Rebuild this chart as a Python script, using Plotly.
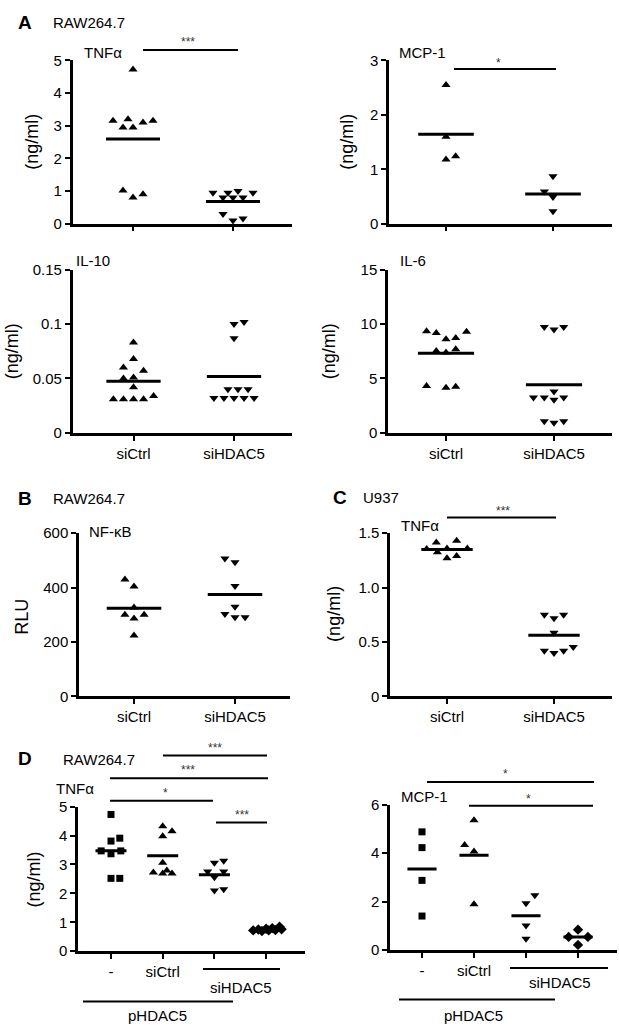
import numpy as np
import plotly.graph_objects as go

W, H = 619, 1033

# ---------------- data ----------------
cats_2 = ["siCtrl", "siHDAC5"]
cats_D = ["-", "siCtrl", "", ""]

# A: TNFα (ng/ml)
a_tnf_ctrl = [4.72, 3.15, 3.20, 3.10, 3.15, 2.95, 2.95, 1.02, 0.80, 0.90]
a_tnf_ctrl_dx = [0.0, -0.20, -0.05, 0.10, 0.20, -0.10, 0.0, -0.10, 0.0, 0.10]
a_tnf_si = [0.95, 0.95, 1.00, 0.95, 0.80, 0.80, 0.80, 0.30, 0.10, 0.16]
a_tnf_si_dx = [-0.20, -0.05, 0.05, 0.20, -0.10, 0.0, 0.10, -0.10, 0.0, 0.10]
# A: MCP-1 (ng/ml)
a_mcp_ctrl = [2.55, 1.60, 1.18, 1.24]
a_mcp_ctrl_dx = [0.0, 0.0, 0.0, 0.09]
a_mcp_si = [0.87, 0.59, 0.49, 0.23]
a_mcp_si_dx = [0.0, -0.08, 0.0, 0.0]
# A: IL-10 (ng/ml)
a_il10_ctrl = [0.083, 0.068, 0.060, 0.057, 0.050, 0.051, 0.042, 0.031, 0.031, 0.031, 0.031, 0.034]
a_il10_ctrl_dx = [0.0, 0.0, -0.10, 0.10, -0.10, 0.0, 0.0, -0.20, -0.10, 0.0, 0.10, 0.20]
a_il10_si = [0.100, 0.102, 0.087, 0.040, 0.040, 0.040, 0.032, 0.032, 0.032, 0.032, 0.032]
a_il10_si_dx = [0.0, 0.10, 0.0, -0.06, 0.04, 0.14, -0.20, -0.10, 0.0, 0.10, 0.20]
# A: IL-6 (ng/ml)
a_il6_ctrl = [9.34, 9.19, 8.60, 8.73, 9.30, 7.53, 7.38, 7.68, 4.30, 4.16, 4.25]
a_il6_ctrl_dx = [-0.18, -0.09, 0.0, 0.09, 0.19, -0.09, 0.0, 0.09, -0.18, 0.0, 0.09]
a_il6_si = [9.73, 9.49, 9.73, 3.80, 3.25, 3.25, 3.04, 3.25, 1.08, 0.93, 1.08]
a_il6_si_dx = [-0.09, 0.0, 0.09, 0.0, -0.19, -0.09, 0.0, 0.09, -0.09, 0.0, 0.09]
# B: NF-κB (RLU)
b_ctrl = [430, 404, 327, 300, 300, 287, 224]
b_ctrl_dx = [-0.09, 0.0, 0.0, -0.09, 0.10, 0.0, 0.0]
b_si = [507, 493, 406, 330, 303, 291, 291]
b_si_dx = [-0.10, 0.0, 0.0, 0.0, -0.10, 0.0, 0.10]
# C: U937 TNFα (ng/ml)
c_ctrl = [1.415, 1.43, 1.355, 1.36, 1.36, 1.325, 1.27, 1.29]
c_ctrl_dx = [-0.10, 0.09, -0.19, 0.0, 0.19, -0.09, 0.0, 0.09]
c_si = [0.75, 0.72, 0.75, 0.585, 0.42, 0.40, 0.42, 0.455]
c_si_dx = [-0.09, 0.0, 0.09, 0.0, -0.09, 0.0, 0.09, 0.18]
# D: TNFα (ng/ml), groups: -, siCtrl, siHDAC5(1), siHDAC5(2)
d_tnf_g0 = [4.73, 3.91, 3.81, 3.47, 3.47, 3.37, 2.52, 2.52]
d_tnf_g0_dx = [0.0, 0.17, 0.0, -0.19, 0.19, 0.0, 0.0, 0.17]
d_tnf_g1 = [4.32, 4.15, 3.98, 3.06, 2.79, 2.72, 2.69, 2.69]
d_tnf_g1_dx = [0.0, 0.18, 0.0, 0.0, 0.08, -0.18, 0.0, 0.18]
d_tnf_g2 = [3.13, 3.06, 2.76, 2.76, 2.56, 2.10, 2.14]
d_tnf_g2_dx = [0.18, 0.0, -0.13, 0.18, 0.0, 0.0, 0.18]
d_tnf_g3 = [0.72, 0.75, 0.70, 0.78, 0.72, 0.80, 0.73, 0.85, 0.76]
d_tnf_g3_dx = [-0.25, -0.15, -0.08, 0.0, 0.05, 0.12, 0.18, 0.26, 0.30]
# D: MCP-1 (ng/ml)
d_mcp_g0 = [4.88, 4.23, 2.88, 1.41]
d_mcp_g0_dx = [0.0, 0.0, 0.0, 0.0]
d_mcp_g1 = [5.36, 4.34, 4.07, 1.90]
d_mcp_g1_dx = [0.0, -0.18, 0.0, 0.0]
d_mcp_g2 = [2.27, 1.94, 1.02, 0.47]
d_mcp_g2_dx = [0.17, 0.0, 0.0, 0.0]
d_mcp_g3 = [0.85, 0.55, 0.55, 0.22]
d_mcp_g3_dx = [0.0, -0.18, 0.19, 0.0]

# ---------------- layout helpers ----------------
FONT = "Liberation Sans, Arial, sans-serif"


def fx(p):
    return p / W


def fy(p):
    return 1 - p / H


# name: (x0px, x1px, ybottom_px, ytop_px, tick0_px, spacing_px, yrange, ytickvals, yticktext, xtickvals, xticktext)
panels = {
    "A1": (72.7, 291.7, 218.3, 52.3, 133, 100, [0, 5], [0, 1, 2, 3, 4, 5], ["0", "1", "2", "3", "4", "5"], [0, 1], ["", ""]),
    "A2": (389, 612, 218.3, 52.3, 446, 107, [0, 3], [0, 1, 2, 3], ["0", "1", "2", "3"], [0, 1], ["", ""]),
    "A3": (72.7, 291.7, 431, 265, 133.5, 100.5, [0, 0.15], [0, 0.05, 0.1, 0.15], ["0", "0.05", "0.1", "0.15"], [0, 1], cats_2),
    "A4": (388, 612, 431, 265, 446, 108, [0, 15], [0, 5, 10, 15], ["0", "5", "10", "15"], [0, 1], cats_2),
    "B": (79, 290, 699, 533, 134, 101, [0, 600], [0, 200, 400, 600], ["0", "200", "400", "600"], [0, 1], cats_2),
    "C": (390, 612, 699, 533, 447, 107, [0, 1.5], [0, 0.5, 1.0, 1.5], ["0", "0.5", "1.0", "1.5"], [0, 1], cats_2),
    "DL": (78, 305, 958, 811, 111, 51.7, [0, 5], [0, 1, 2, 3, 4, 5], ["0", "1", "2", "3", "4", "5"], [0, 1, 2, 3], cats_D),
    "DR": (390, 617, 957, 809, 422, 52, [0, 6], [0, 2, 4, 6], ["0", "2", "4", "6"], [0, 1, 2, 3], cats_D),
}
order = ["A1", "A2", "A3", "A4", "B", "C", "DL", "DR"]
halfw = {"A1": 0.27, "A2": 0.26, "A3": 0.27, "A4": 0.26, "B": 0.27, "C": 0.24, "DL": 0.3, "DR": 0.28}

fig = go.Figure()
layout = dict(
    width=W, height=H, margin=dict(l=0, r=0, t=0, b=0),
    paper_bgcolor="white", plot_bgcolor="white", showlegend=False,
    font=dict(family=FONT, color="black", size=15),
)

axref = {}
for i, name in enumerate(order):
    x0, x1, yb, yt, t0, sp, yr, ytv, ytt, xtv, xtt = panels[name]
    n = "" if i == 0 else str(i + 1)
    axref[name] = ("x" + n, "y" + n)
    layout["xaxis" + n] = dict(
        domain=[fx(x0), fx(x1)], range=[(x0 - t0) / sp, (x1 - t0) / sp],
        anchor="y" + n, showline=True, linecolor="black", linewidth=2.5,
        ticks="outside", ticklen=5, tickwidth=2, tickcolor="black",
        tickvals=xtv, ticktext=xtt, showgrid=False, zeroline=False,
        tickfont=dict(size=15, color="black"), fixedrange=True,
    )
    layout["yaxis" + n] = dict(
        domain=[fy(yb), fy(yt)], range=yr, anchor="x" + n,
        showline=True, linecolor="black", linewidth=2.5,
        ticks="outside", ticklen=5, tickwidth=2, tickcolor="black",
        tickvals=ytv, ticktext=ytt, showgrid=False, zeroline=False,
        tickfont=dict(size=15, color="black"), fixedrange=True,
    )


def add_group(name, pos, vals, dx, symbol, size=8):
    xa, ya = axref[name]
    xs = [pos + d for d in dx]
    fig.add_trace(go.Scatter(
        x=xs, y=vals, mode="markers", xaxis=xa, yaxis=ya, cliponaxis=False,
        marker=dict(symbol=symbol, size=size, color="black", line=dict(width=0)),
        hoverinfo="y",
    ))
    m = float(np.mean(vals))
    hw = halfw[name]
    fig.add_trace(go.Scatter(
        x=[pos - hw, pos + hw], y=[m, m], mode="lines", xaxis=xa, yaxis=ya,
        line=dict(color="black", width=3), hoverinfo="skip",
    ))


add_group("A1", 0, a_tnf_ctrl, a_tnf_ctrl_dx, "triangle-up")
add_group("A1", 1, a_tnf_si, a_tnf_si_dx, "triangle-down")
add_group("A2", 0, a_mcp_ctrl, a_mcp_ctrl_dx, "triangle-up")
add_group("A2", 1, a_mcp_si, a_mcp_si_dx, "triangle-down")
add_group("A3", 0, a_il10_ctrl, a_il10_ctrl_dx, "triangle-up")
add_group("A3", 1, a_il10_si, a_il10_si_dx, "triangle-down")
add_group("A4", 0, a_il6_ctrl, a_il6_ctrl_dx, "triangle-up")
add_group("A4", 1, a_il6_si, a_il6_si_dx, "triangle-down")
add_group("B", 0, b_ctrl, b_ctrl_dx, "triangle-up")
add_group("B", 1, b_si, b_si_dx, "triangle-down")
add_group("C", 0, c_ctrl, c_ctrl_dx, "triangle-up")
add_group("C", 1, c_si, c_si_dx, "triangle-down")
add_group("DL", 0, d_tnf_g0, d_tnf_g0_dx, "square", 7)
add_group("DL", 1, d_tnf_g1, d_tnf_g1_dx, "triangle-up")
add_group("DL", 2, d_tnf_g2, d_tnf_g2_dx, "triangle-down")
add_group("DL", 3, d_tnf_g3, d_tnf_g3_dx, "diamond", 8)
add_group("DR", 0, d_mcp_g0, d_mcp_g0_dx, "square", 7)
add_group("DR", 1, d_mcp_g1, d_mcp_g1_dx, "triangle-up")
add_group("DR", 2, d_mcp_g2, d_mcp_g2_dx, "triangle-down")
add_group("DR", 3, d_mcp_g3, d_mcp_g3_dx, "diamond", 8)

# ---------------- decorations ----------------
shapes = []


def hbar(ypx, x0px, x1px, w=2):
    shapes.append(dict(type="line", xref="paper", yref="paper",
                       x0=fx(x0px), x1=fx(x1px), y0=fy(ypx), y1=fy(ypx),
                       line=dict(color="black", width=w)))


# significance bars
hbar(41.7, 143, 238)
hbar(61, 454, 556)
hbar(517, 447, 556)
hbar(759, 163, 267)
hbar(782, 110, 268)
hbar(805, 110, 213)
hbar(827, 216, 267)
hbar(786, 427, 594)
hbar(810, 469, 593)
# group underlines (D)
hbar(976, 203, 280)
hbar(1009, 83, 233)
hbar(975, 510, 608)
hbar(1007, 399, 555)

annotations = []


def txt(s, xpx, ypx, size=15, anchor="left", bold=False, angle=0, color="black"):
    annotations.append(dict(
        text=("<b>%s</b>" % s) if bold else s, xref="paper", yref="paper",
        x=fx(xpx), y=fy(ypx), xanchor=anchor, yanchor="middle",
        showarrow=False, textangle=angle,
        font=dict(family=FONT, size=size, color=color),
    ))


# panel letters and cell lines
txt("A", 16, 14, 19, bold=True)
txt("RAW264.7", 51, 14, 15)
txt("B", 16, 498, 19, bold=True)
txt("RAW264.7", 51, 498, 15)
txt("C", 331, 497, 19, bold=True)
txt("U937", 361, 497, 15)
txt("D", 16, 762, 19, bold=True)
txt("RAW264.7", 61, 763, 15)

# analyte labels
txt("TNFα", 82, 44, 15)
txt("MCP-1", 397, 44, 15)
txt("IL-10", 74, 256, 15)
txt("IL-6", 398, 256, 15)
txt("NF-κB", 87, 531, 15)
txt("TNFα", 399, 525, 15)
txt("TNFα", 54, 793, 15)
txt("MCP-1", 399, 801, 15)

# stars
SC = "#333333"
txt("***", 188, 34, 12, "center", color=SC)
txt("*", 498, 55, 12, "center", color=SC)
txt("***", 503, 510, 12, "center", color=SC)
txt("***", 215, 751, 12, "center", color=SC)
txt("***", 188, 774, 12, "center", color=SC)
txt("*", 165, 797, 12, "center", color=SC)
txt("***", 242, 819, 12, "center", color=SC)
txt("*", 505, 778, 12, "center", color=SC)
txt("*", 528, 803, 12, "center", color=SC)

# y titles
txt("(ng/ml)", 32, 135, 18, "center", angle=-90)
txt("(ng/ml)", 347, 135, 18, "center", angle=-90)
txt("(ng/ml)", 12, 348, 18, "center", angle=-90)
txt("(ng/ml)", 329, 348, 18, "center", angle=-90)
txt("RLU", 22, 618, 18, "center", angle=-90)
txt("(ng/ml)", 334, 615, 18, "center", angle=-90)
txt("(ng/ml)", 34, 885, 18, "center", angle=-90)

# D group labels
txt("siHDAC5", 241, 995, 15, "center")
txt("pHDAC5", 157, 1023, 15, "center")
txt("siHDAC5", 560, 990, 15, "center")
txt("pHDAC5", 473, 1023, 15, "center")

layout["shapes"] = shapes
layout["annotations"] = annotations
fig.update_layout(**layout)
fig.write_html(
    "out.html",
    config={"displayModeBar": False},
    post_script="document.body.style.margin='0';document.body.style.overflow='hidden';",
)
